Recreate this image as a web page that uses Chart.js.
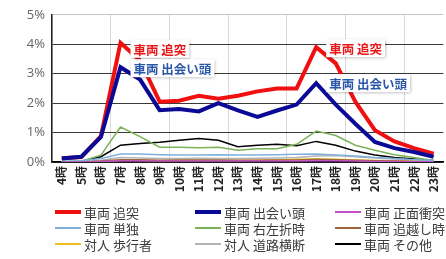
<!DOCTYPE html>
<html>
<head>
<meta charset="utf-8">
<script src="https://cdn.jsdelivr.net/npm/chart.js@4"></script>
<style>
  html, body { margin: 0; padding: 0; background: #fff; }
  #wrap { position: relative; width: 446px; height: 259px; overflow: hidden; }
  #chart { position: absolute; left: 0; top: 0; }
  .leg { position: absolute; display: flex; align-items: center; white-space: nowrap;
         font-family: "Noto Sans CJK JP", sans-serif; font-size: 13px; color: #3a3a3a; }
  .leg span.ln { display: inline-block; width: 26px; margin-right: 3px; }
</style>
</head>
<body>
<div id="wrap">
  <canvas id="chart" width="452" height="205"></canvas>
  <div id="legend"></div>
</div>
<script>
// 時間帯
const hours = ['4時','5時','6時','7時','8時','9時','10時','11時','12時','13時','14時','15時','16時','17時','18時','19時','20時','21時','22時','23時'];
const yTicks = [0, 1, 2, 3, 4, 5];

// 事故類型ごとの割合 (%)
const tsuitotsu   = [0.13,0.17,0.88,4.05,3.45,2.05,2.08,2.25,2.15,2.25,2.4,2.5,2.5,3.9,3.35,2.05,1.08,0.7,0.47,0.28];
const deaigashira = [0.12,0.18,0.85,3.22,2.8,1.76,1.8,1.72,2.0,1.75,1.53,1.75,1.95,2.68,1.95,1.3,0.68,0.47,0.34,0.18];
const shomen      = [0,0,0.02,0.04,0.04,0.03,0.03,0.03,0.03,0.03,0.03,0.03,0.03,0.04,0.04,0.03,0.02,0.02,0.01,0.01];
const tandoku     = [0.02,0.04,0.12,0.27,0.27,0.25,0.24,0.24,0.25,0.24,0.24,0.25,0.26,0.27,0.24,0.2,0.15,0.12,0.08,0.05];
const usetsu      = [0.02,0.03,0.23,1.19,0.86,0.5,0.5,0.48,0.5,0.4,0.45,0.45,0.6,1.05,0.9,0.57,0.4,0.25,0.15,0.05];
const oikoshi     = [0,0,0.03,0.08,0.08,0.06,0.07,0.07,0.07,0.06,0.06,0.07,0.07,0.09,0.08,0.06,0.04,0.03,0.02,0.01];
const hokosha     = [0,0,0.02,0.05,0.05,0.04,0.05,0.05,0.05,0.05,0.06,0.07,0.09,0.1,0.09,0.07,0.05,0.04,0.03,0.02];
const odan        = [0.01,0.02,0.06,0.15,0.14,0.12,0.12,0.13,0.12,0.12,0.13,0.14,0.15,0.2,0.22,0.18,0.14,0.1,0.07,0.04];
const sonota      = [0.01,0.02,0.18,0.57,0.63,0.67,0.74,0.8,0.74,0.52,0.57,0.6,0.55,0.7,0.57,0.37,0.24,0.15,0.1,0.05];

const seriesNames = ['車両 追突','車両 出会い頭','車両 正面衝突','車両 単独','車両 右左折時','車両 追越し時','対人 歩行者','対人 道路横断','車両 その他'];
const seriesData = [tsuitotsu, deaigashira, shomen, tandoku, usetsu, oikoshi, hokosha, odan, sonota];
const seriesColors = ['#f01010','#0a0a96','#c050c8','#7fb0dc','#7cb257','#a0643c','#f0c020','#b4b4b4','#000000'];
const seriesWidths = [4, 4, 1.5, 1.5, 1.5, 1.5, 1.5, 1.5, 1.5];
const seriesOrder  = [1, 0, 2, 2, 2, 2, 2, 2, 2];

// 吹き出しラベル
const callouts = [
  { text: '車両 追突', series: 0, idx: 3, dy: 6, color: '#e81818' },
  { text: '車両 出会い頭', series: 1, idx: 3, dy: 1, color: '#2a56a8' },
  { text: '車両 追突', series: 0, idx: 13, dy: 1, color: '#e81818' },
  { text: '車両 出会い頭', series: 1, idx: 13, dy: 0, color: '#2a56a8' }
];

const calloutPlugin = {
  id: 'callouts',
  afterDatasetsDraw(chart) {
    const ctx = chart.ctx;
    const xs = chart.scales.x, ys = chart.scales.y;
    ctx.save();
    ctx.font = 'bold 12.5px "Noto Sans CJK JP", sans-serif';
    ctx.textBaseline = 'middle';
    callouts.forEach(c => {
      const x = xs.getPixelForValue(c.idx) + 12;
      const y = ys.getPixelForValue(seriesData[c.series][c.idx]) + c.dy;
      const w = ctx.measureText(c.text).width + 6;
      ctx.save();
      ctx.shadowColor = 'rgba(0,0,0,0.35)';
      ctx.shadowBlur = 3;
      ctx.shadowOffsetX = 1;
      ctx.shadowOffsetY = 1;
      ctx.fillStyle = '#fff';
      ctx.fillRect(x - 2, y - 9, w, 18);
      ctx.restore();
      ctx.fillStyle = c.color;
      ctx.fillText(c.text, x + 1, y + 1);
    });
    ctx.restore();
  }
};

new Chart(document.getElementById('chart'), {
  type: 'line',
  data: {
    labels: hours,
    datasets: seriesNames.map((name, i) => ({
      label: name,
      data: seriesData[i],
      borderColor: seriesColors[i],
      backgroundColor: seriesColors[i],
      borderWidth: seriesWidths[i],
      pointRadius: 0,
      tension: 0,
      order: seriesOrder[i]
    }))
  },
  options: {
    responsive: false,
    devicePixelRatio: 1,
    animation: false,
    layout: { padding: { top: 14, left: 0, right: 0, bottom: 0 } },
    plugins: { legend: { display: false }, tooltip: { enabled: false } },
    scales: {
      x: {
        offset: true,
        grid: {
          offset: true,
          color: ctx => (ctx.index % 3 === 0 ? '#d8d8d8' : 'rgba(0,0,0,0)'),
          drawTicks: false
        },
        border: { color: '#000', width: 1.5 },
        ticks: {
          autoSkip: false, maxRotation: 90, minRotation: 90, padding: 4,
          color: '#222',
          font: { family: '"Noto Sans CJK JP", sans-serif', size: 12, weight: 'bold' }
        },
        afterFit: s => { s.height = 43; }
      },
      y: {
        min: 0, max: 5,
        afterBuildTicks: s => { s.ticks = yTicks.map(v => ({ value: v })); },
        grid: {
          color: ctx => (ctx.tick && ctx.tick.value === 5 ? '#c4c4c4' : '#3a3a3a'),
          drawTicks: false
        },
        border: { color: '#222', width: 1.5 },
        ticks: {
          padding: 7, color: '#666',
          font: { family: '"Open Sans", sans-serif', size: 13 },
          callback: v => v + '%'
        },
        afterFit: s => { s.width = 52; }
      }
    }
  },
  plugins: [calloutPlugin]
});

// 凡例 (3列)
const legend = document.getElementById('legend');
const colX = [55, 195, 335];
const rowY = [212, 228, 244];
seriesNames.forEach((name, i) => {
  const d = document.createElement('div');
  d.className = 'leg';
  d.style.left = colX[i % 3] + 'px';
  d.style.top = (rowY[Math.floor(i / 3)] - 9) + 'px';
  d.style.height = '18px';
  const ln = document.createElement('span');
  ln.className = 'ln';
  ln.style.height = (seriesWidths[i] > 2 ? 4 : 2) + 'px';
  ln.style.background = seriesColors[i];
  const t = document.createElement('span');
  t.textContent = name;
  d.appendChild(ln);
  d.appendChild(t);
  legend.appendChild(d);
});
</script>
</body>
</html>
